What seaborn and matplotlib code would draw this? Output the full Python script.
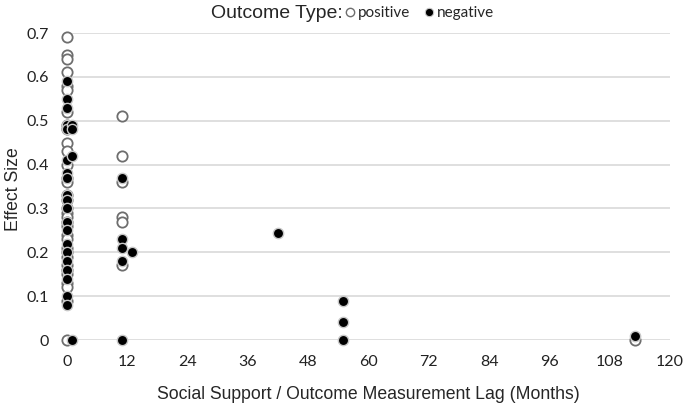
import pandas as pd
import seaborn as sns
import matplotlib.pyplot as plt
from matplotlib.lines import Line2D

# lag in months / effect size
pos_lag = [0] * 33 + [11, 11, 11, 11, 11, 11, 113]
pos_es = [0.69, 0.65, 0.64, 0.61, 0.58, 0.57, 0.52, 0.49, 0.48, 0.45, 0.43,
          0.40, 0.37, 0.36, 0.33, 0.32, 0.30, 0.29, 0.28, 0.27, 0.26, 0.24,
          0.23, 0.21, 0.20, 0.19, 0.17, 0.16, 0.15, 0.13, 0.12, 0.09, 0.0,
          0.51, 0.42, 0.36, 0.28, 0.27, 0.17, 0.0]

neg_lag = [0] * 20 + [1, 1, 1, 1] + [11, 11, 11, 11, 11, 13, 42, 55, 55, 55, 113]
neg_es = [0.59, 0.55, 0.53, 0.49, 0.48, 0.41, 0.38, 0.37, 0.33, 0.32, 0.30,
          0.27, 0.25, 0.22, 0.20, 0.18, 0.16, 0.14, 0.10, 0.08,
          0.49, 0.48, 0.42, 0.0,
          0.37, 0.23, 0.21, 0.18, 0.0, 0.20, 0.245, 0.09, 0.04, 0.0, 0.01]

x_ticks = list(range(0, 121, 12))
y_ticks = [0, 0.1, 0.2, 0.3, 0.4, 0.5, 0.6, 0.7]

df = pd.concat([
    pd.DataFrame({'lag': pos_lag, 'es': pos_es, 'type': 'positive'}),
    pd.DataFrame({'lag': neg_lag, 'es': neg_es, 'type': 'negative'}),
])

sns.set_theme(style="white")
plt.rcParams['font.family'] = ['Liberation Sans', 'DejaVu Sans']

fig = plt.figure(figsize=(6.85, 4.07), dpi=100)
ax = fig.add_axes([67 / 685, 1 - 340 / 407, 603 / 685, 307 / 407])

sns.scatterplot(data=df[df['type'] == 'positive'], x='lag', y='es', ax=ax,
                color='white', edgecolor='#6e6e6e', linewidth=1.3, s=55,
                clip_on=False, zorder=3, legend=False)
sns.scatterplot(data=df[df['type'] == 'negative'], x='lag', y='es', ax=ax,
                color='black', edgecolor='#c8c8c8', linewidth=1.0, s=55,
                clip_on=False, zorder=4, legend=False)

ax.set_xlim(0, 120)
ax.set_ylim(0, 0.7)
ax.set_xticks(x_ticks)
ax.set_yticks(y_ticks)
ax.set_yticklabels(['0'] + [f'{v:.1f}' for v in y_ticks[1:]])
for lab in ax.get_xticklabels() + ax.get_yticklabels():
    lab.set_family('Lato')
    lab.set_fontsize(11.5)
    lab.set_color('#222222')
ax.tick_params(axis='x', pad=5)
ax.tick_params(axis='y', pad=7)
ax.yaxis.grid(True, color='#d9d9d9', linewidth=1.2, zorder=0)
ax.set_axisbelow(True)
sns.despine(ax=ax, left=True, bottom=True)

ax.set_xlabel('Social Support / Outcome Measurement Lag (Months)', fontsize=12.7, labelpad=12)
ax.set_ylabel('Effect Size', fontsize=12.7, va='center')
ax.yaxis.set_label_coords(-0.088, 0.49)

fig.text(211 / 685, 1 - 14 / 407, 'Outcome Type:', fontsize=14, va='center', ha='left')
handles = [
    Line2D([], [], marker='o', linestyle='', markersize=6, markerfacecolor='white',
           markeredgecolor='#6e6e6e', markeredgewidth=1.0, label='positive'),
    Line2D([], [], marker='o', linestyle='', markersize=6, markerfacecolor='black',
           markeredgecolor='#c8c8c8', markeredgewidth=0.8, label='negative'),
]
fig.legend(handles=handles, loc='center left', bbox_to_anchor=(342 / 685, 1 - 13 / 407),
           ncol=2, frameon=False, prop={'family': 'Lato', 'size': 11},
           handletextpad=0.05, columnspacing=0.7, handlelength=1.0, borderpad=0,
           borderaxespad=0)

fig.savefig('out.png', dpi=100)
